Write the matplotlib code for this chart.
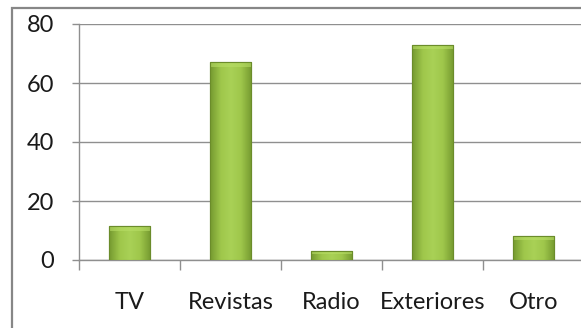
import numpy as np
import matplotlib
matplotlib.use("Agg")
import matplotlib.pyplot as plt
from matplotlib.patches import Rectangle
from matplotlib.colors import LinearSegmentedColormap

categories = ["TV", "Revistas", "Radio", "Exteriores", "Otro"]
values = [11.5, 67, 3, 73, 8.3]
y_ticks = [0, 20, 40, 60, 80]

plt.rcParams['font.family'] = ['Lato', 'DejaVu Sans']
grid_grey = '#8f8f8f'

fig = plt.figure(figsize=(5.81, 3.28), dpi=100)

# outer chart border (cut off on the right and bottom like the original)
fig.patches.append(Rectangle((12 / 581, -0.2), 1.2, 1.2 + 320 / 328 - 1,
                             transform=fig.transFigure, fill=False,
                             edgecolor='#878787', linewidth=1.6, zorder=0))

ax = fig.add_axes([79 / 581, 68 / 328, 505 / 581, 236 / 328])
x = np.arange(len(categories))
bars = ax.bar(x, values, width=0.41, color='#93bc42', edgecolor='#6b8c2b',
              linewidth=0.8, zorder=3)

# soft bevel shading inside each bar
shade = LinearSegmentedColormap.from_list('g', ['#72962e', '#a0c84c', '#acd459', '#a0c84c', '#72962e'])
grad = np.tile(np.linspace(0, 1, 64), (64, 1))
for b in bars:
    bx, by = b.get_x(), b.get_y()
    w, h = b.get_width(), b.get_height()
    im = ax.imshow(grad, cmap=shade, extent=(bx, bx + w, by, by + h),
                   aspect='auto', zorder=3.5, alpha=0.9)
    im.set_clip_path(b)
    top = min(1.6, h * 0.3)
    ax.fill_between([bx, bx + w], by + h - top, by + h, color='#b8de66',
                    alpha=0.6, zorder=3.6, linewidth=0)
    ax.add_patch(Rectangle((bx, by), w, h, fill=False, edgecolor='#6b8c2b',
                           linewidth=0.8, zorder=3.7))

ax.set_xlim(-0.5, len(categories) - 0.5)
ax.set_ylim(0, 80)
ax.set_yticks(y_ticks)
ax.yaxis.grid(True, color=grid_grey, linewidth=1.0, zorder=0)
ax.set_axisbelow(True)

ax.set_xticks(x)
ax.set_xticklabels(categories)
ax.set_xticks(np.arange(len(categories)) - 0.5, minor=True)
ax.tick_params(axis='x', which='major', length=0, pad=23, labelsize=17, labelcolor='#1a1a1a')
ax.tick_params(axis='x', which='minor', length=7, width=1.0, color=grid_grey, direction='out')
ax.tick_params(axis='y', length=5, width=1.0, color=grid_grey, pad=13,
               labelsize=17, labelcolor='#1a1a1a')

for s in ['top', 'right']:
    ax.spines[s].set_visible(False)
for s in ['left', 'bottom']:
    ax.spines[s].set_color(grid_grey)
    ax.spines[s].set_linewidth(1.0)

fig.savefig('out.png', dpi=100)
